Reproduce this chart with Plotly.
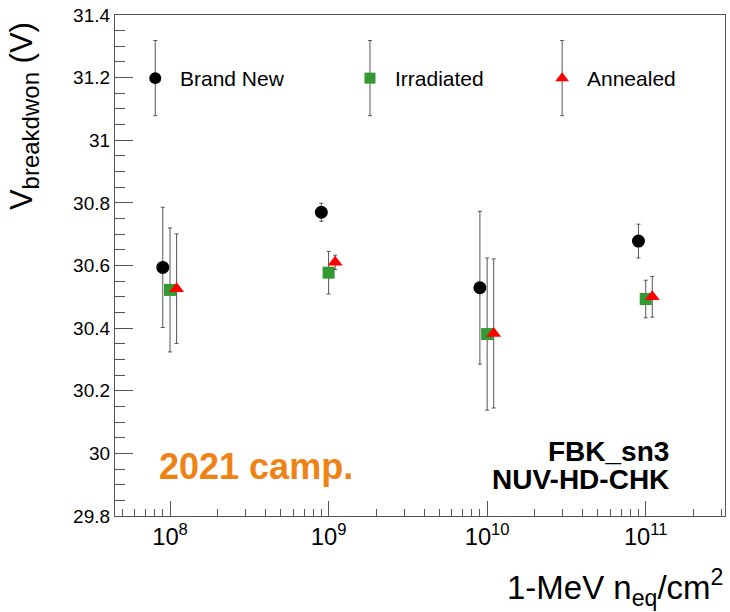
import plotly.graph_objects as go

# Fluence points (1-MeV neq/cm^2) and breakdown voltages for FBK_sn3 NUV-HD-CHK
fluence = [1e8, 1e9, 1e10, 1e11]

brand_new_v = [30.594, 30.770, 30.529, 30.678]
brand_new_err = [0.192, 0.029, 0.244, 0.054]

irradiated_v = [30.522, 30.577, 30.381, 30.493]
irradiated_err = [0.198, 0.068, 0.243, 0.060]

annealed_v = [30.526, 30.610, 30.383, 30.500]
annealed_err = [0.175, 0.023, 0.238, 0.065]

series_names = ["Brand New", "Irradiated", "Annealed"]

# horizontal shift factors so the three series do not overlap at each fluence
shift = [0.9, 1.0, 1.1]
symbols = ["circle", "square", "triangle-up"]
colors = ["#000000", "#339933", "#ff0000"]
sizes = [13, 12, 13]
ERR_COLOR = "#555555"
AXIS_COLOR = "#555555"
FONT = "Liberation Sans, Arial, Helvetica, sans-serif"

fig = go.Figure()

values = [brand_new_v, irradiated_v, annealed_v]
errors = [brand_new_err, irradiated_err, annealed_err]

for name, v, e, s, sym, c, sz in zip(series_names, values, errors, shift, symbols, colors, sizes):
    fig.add_trace(go.Scatter(
        x=[f * s for f in fluence], y=v, mode="markers", name=name,
        marker=dict(symbol=sym, color=c, size=sz, line=dict(width=0)),
        error_y=dict(type="data", array=e, visible=True, color=ERR_COLOR,
                     thickness=1, width=2),
        showlegend=False,
    ))

# legend drawn in the top band of the frame, with error-bar glyphs like the data
legend_x = [0.066, 0.418, 0.733]
legend_y = 0.874
legend_half = 0.075
for name, lx, sym, c, sz in zip(series_names, legend_x, symbols, colors, sizes):
    fig.add_trace(go.Scatter(
        x=[lx], y=[legend_y], mode="markers", xaxis="x2", yaxis="y2",
        marker=dict(symbol=sym, color=c, size=sz - 1, line=dict(width=0)),
        error_y=dict(type="constant", value=legend_half, visible=True,
                     color=ERR_COLOR, thickness=1, width=2),
        showlegend=False, hoverinfo="skip",
    ))
    fig.add_annotation(x=lx + 0.038, y=legend_y, xref="paper", yref="paper",
                       text=name, showarrow=False, xanchor="left", yanchor="middle",
                       font=dict(family=FONT, size=21, color="black"))

fig.update_layout(
    width=730, height=612,
    margin=dict(l=115, r=5, t=15, b=96),
    paper_bgcolor="white", plot_bgcolor="white",
    font=dict(family=FONT, color="black"),
    xaxis=dict(
        type="log", range=[7.653, 11.5], dtick=1, exponentformat="power",
        showgrid=False, zeroline=False,
        showline=True, linecolor=AXIS_COLOR, linewidth=1.2, mirror=True,
        ticks="inside", ticklen=15, tickcolor=AXIS_COLOR, tickwidth=1,
        tickfont=dict(family=FONT, size=19, color="black"),
        minor=dict(ticks="inside", ticklen=7, tickcolor=AXIS_COLOR, dtick="D1",
                   showgrid=False),
    ),
    yaxis=dict(
        range=[29.8, 31.4], dtick=0.2, tick0=29.8,
        showgrid=False, zeroline=False,
        showline=True, linecolor=AXIS_COLOR, linewidth=1.2, mirror=True,
        ticks="inside", ticklen=18, tickcolor=AXIS_COLOR, tickwidth=1,
        tickfont=dict(family=FONT, size=19, color="black"),
        minor=dict(ticks="inside", ticklen=10, tickcolor=AXIS_COLOR, dtick=0.05,
                   showgrid=False),
    ),
    xaxis2=dict(overlaying="x", range=[0, 1], visible=False, fixedrange=True),
    yaxis2=dict(overlaying="y", range=[0, 1], visible=False, fixedrange=True),
)

# axis titles, aligned to the ends of the axes
fig.add_annotation(
    x=-0.149, y=0.99, xref="paper", yref="paper", textangle=-90,
    text='V<sub><span style="font-size:24px">breakdwon</span></sub> (V)',
    showarrow=False, xanchor="center", yanchor="top",
    font=dict(family=FONT, size=31, color="black"),
)
fig.add_annotation(
    x=1.0, y=-0.142, xref="paper", yref="paper",
    text="1-MeV n<sub>eq</sub>/cm<sup>2</sup>",
    showarrow=False, xanchor="right", yanchor="middle",
    font=dict(family=FONT, size=33, color="black"),
)

# campaign and device labels
fig.add_annotation(
    x=0.069, y=0.098, xref="paper", yref="paper", text="<b>2021 camp.</b>",
    showarrow=False, xanchor="left", yanchor="middle",
    font=dict(family=FONT, size=36, color="#EF8214"),
)
fig.add_annotation(
    x=0.9115, y=0.128, xref="paper", yref="paper", text="<b>FBK_sn3</b>",
    showarrow=False, xanchor="right", yanchor="middle",
    font=dict(family=FONT, size=28, color="black"),
)
fig.add_annotation(
    x=0.9115, y=0.072, xref="paper", yref="paper", text="<b>NUV-HD-CHK</b>",
    showarrow=False, xanchor="right", yanchor="middle",
    font=dict(family=FONT, size=28, color="black"),
)

fig.write_html("out.html")
